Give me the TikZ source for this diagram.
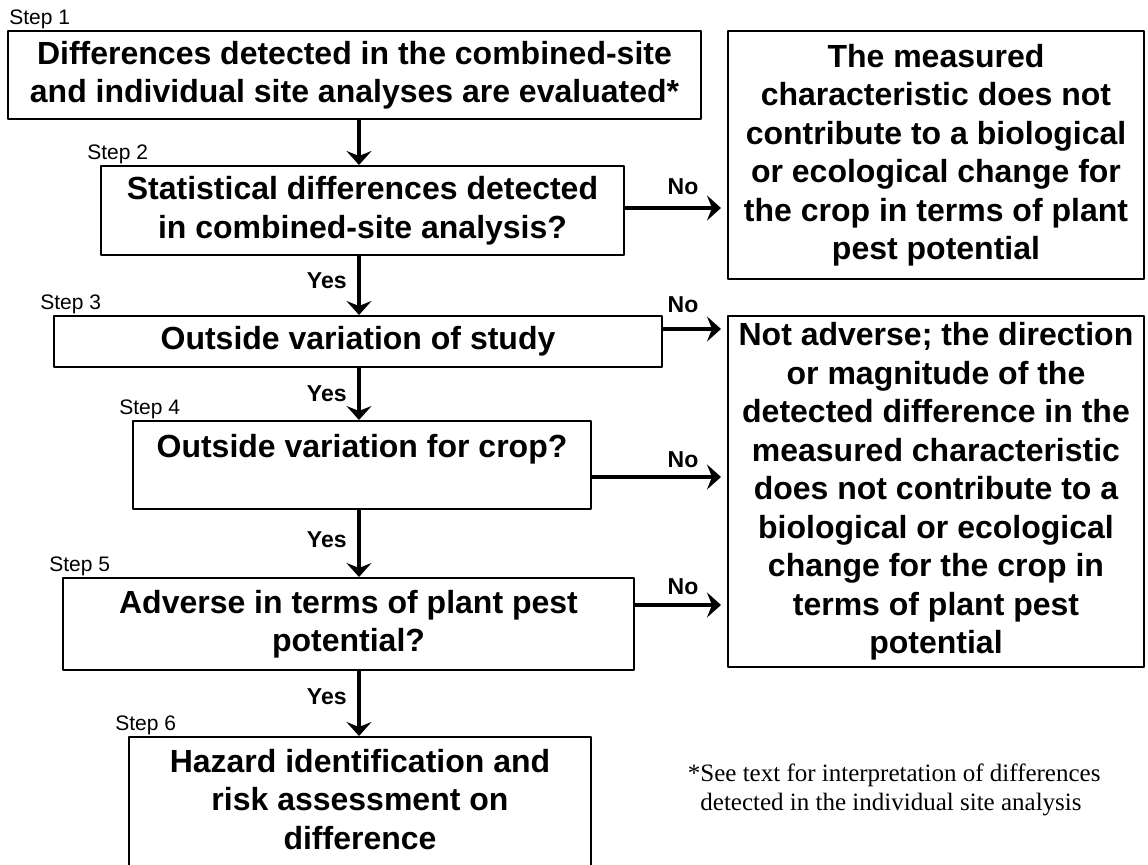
\documentclass[tikz,border=0pt]{standalone}
\usepackage{fontspec}
\setmainfont{Liberation Sans}
\newfontfamily\notefont{Liberation Serif}
\usetikzlibrary{arrows.meta}
\def\px{0.5pt} % one pixel of the reference
\begin{document}
\begin{tikzpicture}[x=\px, y=-\px, line join=round,
  >={Stealth[length=7pt,width=12.5pt,inset=2.5pt]},
  box/.style 2 args={draw, line width=1pt, align=center, inner sep=0pt,
    minimum width=#1*\px, minimum height=#2*\px,
    font=\bfseries\fontsize{16}{19.25}\selectfont},
  arr/.style={->, line width=2.25pt},
  steplbl/.style={anchor=base west, inner sep=0pt, font=\fontsize{10.5}{12}\selectfont},
  yeslbl/.style={anchor=east, inner sep=0pt, font=\bfseries\fontsize{11.5}{13}\selectfont},
  nolbl/.style={inner sep=0pt, font=\bfseries\fontsize{11.5}{13}\selectfont}]
  \path[fill=white, use as bounding box] (0,0) rectangle (1148,865);
  % left column
  \node[box={693}{88}] (b1) at (354.5,75) {Differences detected in the combined-site\\and individual site analyses are evaluated*};
  \node[box={523}{89}] (b2) at (362.5,210.5) {Statistical differences detected\\in combined-site analysis?};
  \node[box={608}{51}] (b3) at (358,341.5) {Outside variation of study};
  \node[box={458}{88}] (b4) at (362,465) {Outside variation for crop?\\\mbox{}};
  \node[box={571}{92}] (b5) at (348.5,624) {Adverse in terms of plant pest\\potential?};
  \node[box={462}{163}] (b6) at (360,818.5) {Hazard identification and\\risk assessment on\\difference\\\mbox{}};
  % right column
  \node[box={416}{248}] (r1) at (936,155) {The measured\\characteristic does not\\contribute to a biological\\or ecological change for\\the crop in terms of plant\\pest potential};
  \node[box={416}{351}] (r2) at (936,491.5) {Not adverse; the direction\\or magnitude of the\\detected difference in the\\measured characteristic\\does not contribute to a\\biological or ecological\\change for the crop in\\terms of plant pest\\potential};
  % step labels
  \node[steplbl] (s1) at ([xshift=1pt,yshift=2.5pt]b1.north west) {Step 1};
  \foreach \n in {2,...,6}
  \node[steplbl] (s\n) at ([xshift=-6.5pt,yshift=2.5pt]b\n.north west) {Step \n};
  % yes arrows
  \coordinate (ax) at (359,0);
  \foreach \p/\q in {b1/b2,b2/b3,b3/b4,b4/b5,b5/b6}
  \draw[arr] (\p.south -| ax) -- (\q.north -| ax);
  \foreach \y/\k in {281/1,394/2,540/3,697/4}
  \node[yeslbl] (yes\k) at (347,\y) {Yes};
  % no arrows
  \foreach \p/\q/\d in {b2/r1/1.25pt,b3/r2/6.25pt,b4/r2/-6pt,b5/r2/9.5pt}
  \draw[arr, shorten >=3pt] ([yshift=\d]\p.east) -- ([yshift=\d]\p.east -| \q.west);
  \foreach \y/\k in {187/1,305/2,460/3,587/4}
  \node[nolbl] (no\k) at (683,\y) {No};
  % footnote (base = last line)
  \node[anchor=base west, align=left, inner sep=0pt,
    font=\notefont\fontsize{12.5}{14.5}\selectfont] (note) at (700,811)
    {\llap{*}See text for interpretation of differences\\detected in the individual site analysis};
\end{tikzpicture}
\end{document}
